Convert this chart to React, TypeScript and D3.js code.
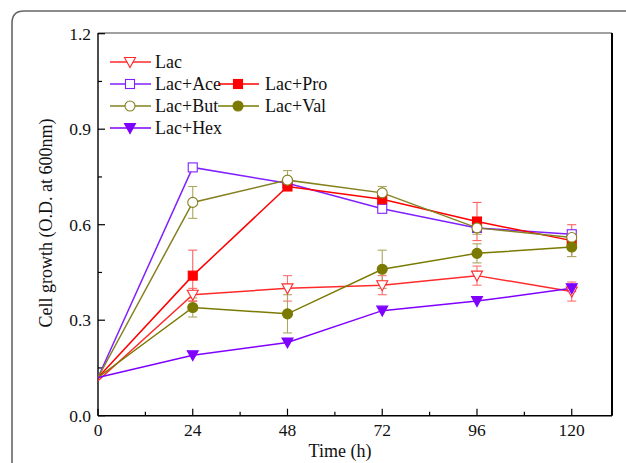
import React from "react";
import * as d3 from "d3";

const times = [0, 24, 48, 72, 96, 120];
const lac = [0.11, 0.38, 0.4, 0.41, 0.44, 0.39];
const lacErr = [0, 0.02, 0.04, 0.03, 0.03, 0.03];
const lacAce = [0.12, 0.78, 0.73, 0.65, 0.59, 0.57];
const lacAceErr = [0, 0, 0.01, 0.01, 0.01, 0.01];
const lacPro = [0.12, 0.44, 0.72, 0.68, 0.61, 0.55];
const lacProErr = [0, 0.08, 0.01, 0.01, 0.06, 0.05];
const lacBut = [0.12, 0.67, 0.74, 0.7, 0.59, 0.56];
const lacButErr = [0, 0.05, 0.03, 0.02, 0.02, 0.01];
const lacVal = [0.12, 0.34, 0.32, 0.46, 0.51, 0.53];
const lacValErr = [0, 0.03, 0.06, 0.06, 0.03, 0.03];
const lacHex = [0.12, 0.19, 0.23, 0.33, 0.36, 0.4];
const lacHexErr = [0, 0, 0, 0, 0, 0.01];

const xTicks = [0, 24, 48, 72, 96, 120];
const xMinor = [12, 36, 60, 84, 108];
const yTicks = [0, 0.3, 0.6, 0.9, 1.2];
const yMinor = [0.15, 0.45, 0.75, 1.05];

type Series = {
  name: string;
  vals: number[];
  err: number[];
  color: string;
  errColor: string;
  marker: "tri" | "sq" | "circ";
  filled: boolean;
};

const series: Series[] = [
  { name: "Lac", vals: lac, err: lacErr, color: "#ff2a2a", errColor: "#ff7070", marker: "tri", filled: false },
  { name: "Lac+Ace", vals: lacAce, err: lacAceErr, color: "#8020ff", errColor: "#a060ff", marker: "sq", filled: false },
  { name: "Lac+Pro", vals: lacPro, err: lacProErr, color: "#ff0000", errColor: "#ff6060", marker: "sq", filled: true },
  { name: "Lac+But", vals: lacBut, err: lacButErr, color: "#858020", errColor: "#aaa860", marker: "circ", filled: false },
  { name: "Lac+Val", vals: lacVal, err: lacValErr, color: "#7a7a00", errColor: "#a8a860", marker: "circ", filled: true },
  { name: "Lac+Hex", vals: lacHex, err: lacHexErr, color: "#7f00ff", errColor: "#a060ff", marker: "tri", filled: true },
];

const legendPos = [
  { col: 0, row: 0 },
  { col: 0, row: 1 },
  { col: 1, row: 1 },
  { col: 0, row: 2 },
  { col: 1, row: 2 },
  { col: 0, row: 3 },
];

const FONT = "'Liberation Serif', 'Times New Roman', serif";

function Marker({ s, cx, cy }: { s: Series; cx: number; cy: number }) {
  const fill = s.filled ? s.color : "#fff";
  if (s.marker === "tri") {
    const w = 5.5;
    const pts = `${cx - w},${cy - 4.5} ${cx + w},${cy - 4.5} ${cx},${cy + 5.5}`;
    return <polygon points={pts} fill={fill} stroke={s.color} strokeWidth={1.1} />;
  }
  if (s.marker === "sq") {
    return <rect x={cx - 4.5} y={cy - 4.5} width={9} height={9} fill={fill} stroke={s.color} strokeWidth={1.1} />;
  }
  return <circle cx={cx} cy={cy} r={5} fill={fill} stroke={s.color} strokeWidth={1.1} />;
}

export default function App() {
  const W = 626;
  const H = 463;
  const left = 98;
  const right = 612;
  const top = 33;
  const bottom = 415.7;
  const x = d3.scaleLinear().domain([0, 130.2]).range([left, right]);
  const y = d3.scaleLinear().domain([0, 1.2]).range([bottom, top + 0.7]);
  const line = d3
    .line<number>()
    .x((_, i) => x(times[i]))
    .y((d) => y(d));

  return (
    <svg width={W} height={H} style={{ position: "absolute", left: 0, top: 0 }}>
      <rect x={0} y={0} width={W} height={H} fill="#fff" />
      <path
        d={`M12,${H + 5} L12,23 Q12,11 24,11 L${W + 10},11`}
        fill="none"
        stroke="#666"
        strokeWidth={1.6}
      />
      {/* plot frame */}
      <line x1={left} y1={top} x2={right} y2={top} stroke="#444" strokeWidth={1.2} />
      <line x1={right} y1={top} x2={right} y2={bottom} stroke="#000" strokeWidth={2} />
      <line x1={left} y1={top} x2={left} y2={bottom} stroke="#000" strokeWidth={1.4} />
      <line x1={left} y1={bottom} x2={right} y2={bottom} stroke="#000" strokeWidth={1.4} />
      {xTicks.map((t) => (
        <g key={"xt" + t}>
          <line x1={x(t)} x2={x(t)} y1={bottom} y2={bottom - 7} stroke="#000" strokeWidth={1.2} />
          <text x={x(t)} y={436} textAnchor="middle" fontFamily={FONT} fontSize={17.5} fill="#111">
            {t}
          </text>
        </g>
      ))}
      {xMinor.map((t) => (
        <line key={"xm" + t} x1={x(t)} x2={x(t)} y1={bottom} y2={bottom - 4} stroke="#000" strokeWidth={1.2} />
      ))}
      {yTicks.map((t) => (
        <g key={"yt" + t}>
          <line x1={left} x2={left + 7} y1={y(t)} y2={y(t)} stroke="#000" strokeWidth={1.2} />
          <text x={91} y={y(t) + 6} textAnchor="end" fontFamily={FONT} fontSize={17.5} fill="#111">
            {t.toFixed(1)}
          </text>
        </g>
      ))}
      {yMinor.map((t) => (
        <line key={"ym" + t} x1={left} x2={left + 4} y1={y(t)} y2={y(t)} stroke="#000" strokeWidth={1.2} />
      ))}
      <text x={340} y={456.5} textAnchor="middle" fontFamily={FONT} fontSize={18} fill="#111">
        Time (h)
      </text>
      <text
        transform={`translate(51.5, ${223}) rotate(-90)`}
        textAnchor="middle"
        fontFamily={FONT}
        fontSize={18}
        fill="#111"
      >
        Cell growth (O.D. at 600nm)
      </text>
      {/* error bars */}
      {series.map((s) =>
        s.vals.map((v, i) =>
          s.err[i] > 0 ? (
            <g key={s.name + "e" + i} stroke={s.errColor} strokeWidth={1.1}>
              <line x1={x(times[i])} x2={x(times[i])} y1={y(v - s.err[i])} y2={y(v + s.err[i])} />
              <line x1={x(times[i]) - 4.5} x2={x(times[i]) + 4.5} y1={y(v - s.err[i])} y2={y(v - s.err[i])} />
              <line x1={x(times[i]) - 4.5} x2={x(times[i]) + 4.5} y1={y(v + s.err[i])} y2={y(v + s.err[i])} />
            </g>
          ) : null
        )
      )}
      {/* lines */}
      {series.map((s) => (
        <path key={s.name + "l"} d={line(s.vals) || ""} fill="none" stroke={s.color} strokeWidth={1.5} />
      ))}
      {/* markers */}
      {series.map((s) =>
        s.vals.map((v, i) =>
          i === 0 ? null : <Marker key={s.name + "m" + i} s={s} cx={x(times[i])} cy={y(v)} />
        )
      )}
      {/* legend */}
      {series.map((s, k) => {
        const p = legendPos[k];
        const lx = p.col === 0 ? 110 : 218;
        const ly = 62 + p.row * 22;
        const tx = p.col === 0 ? 155 : 265;
        return (
          <g key={s.name + "leg"}>
            <line x1={lx} x2={lx + 41} y1={ly} y2={ly} stroke={s.color} strokeWidth={1.5} />
            <Marker s={s} cx={lx + 20} cy={ly} />
            <text x={tx} y={ly + 6} fontFamily={FONT} fontSize={18} fill="#111">
              {s.name}
            </text>
          </g>
        );
      })}
    </svg>
  );
}
